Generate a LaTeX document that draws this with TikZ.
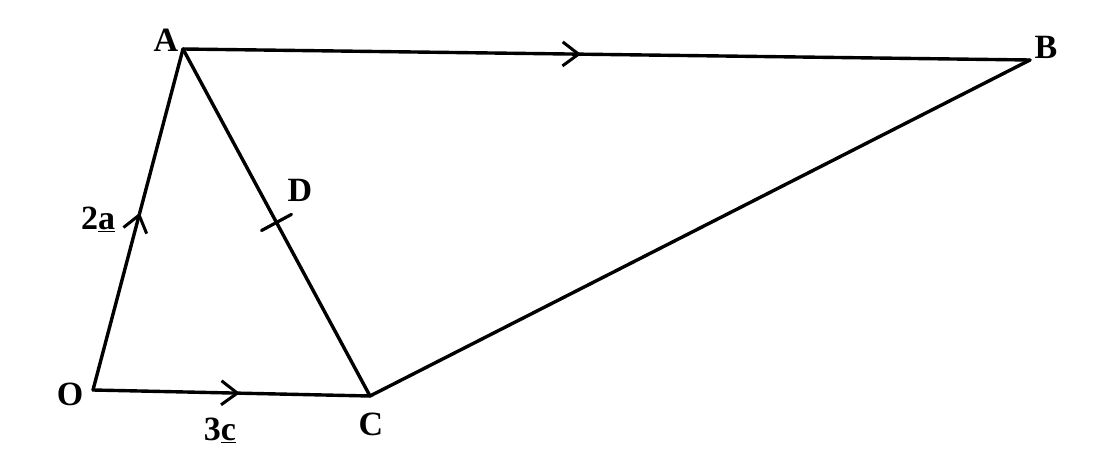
\documentclass[tikz,border=0pt]{standalone}
\usepackage{fontspec}
\setmainfont{Liberation Serif}
\usetikzlibrary{arrows.meta,decorations.markings}
\begin{document}
\begin{tikzpicture}[x=1pt,y=-1pt,
  edge/.style={line width=3.4pt,line cap=round,line join=round},
  midarrow/.style={postaction={decorate},decoration={markings,
    mark=at position #1 with {\arrow{Straight Barb[length=16pt,width=24pt,line width=3pt]}}}},
  tickmark/.style={postaction={decorate},decoration={markings,
    mark=at position #1 with {\draw[line width=3.2pt] (0,-17pt) -- (0,17pt);}}},
  lbl/.style={font=\fontsize{34}{38}\selectfont\bfseries,inner sep=0pt}]
\useasboundingbox (0,0) rectangle (1100,470);
\coordinate (O) at (93,390);
\coordinate (A) at (183,49);
\coordinate (B) at (1030,60);
\coordinate (C) at (370,396);
\draw[edge,midarrow=0.52] (O) -- (A);
\draw[edge,midarrow=0.53] (O) -- (C);
\draw[edge,midarrow=0.47] (A) -- (B);
\draw[edge,tickmark=0.5] (A) -- coordinate[pos=0.5] (D) (C);
\draw[edge] (C) -- (B);
\node[lbl] (lO) at (70,394) {O};
\node[lbl] (lA) at (166,40) {A};
\node[lbl] (lB) at (1046,47) {B};
\node[lbl] (lC) at (371,424) {C};
\node[lbl] (lD) at (300,190) {D};
\node[lbl] (l2a) at (98,219) {2\underline{a}};
\node[lbl] (l3c) at (220,430) {3\underline{c}};
\end{tikzpicture}
\end{document}
